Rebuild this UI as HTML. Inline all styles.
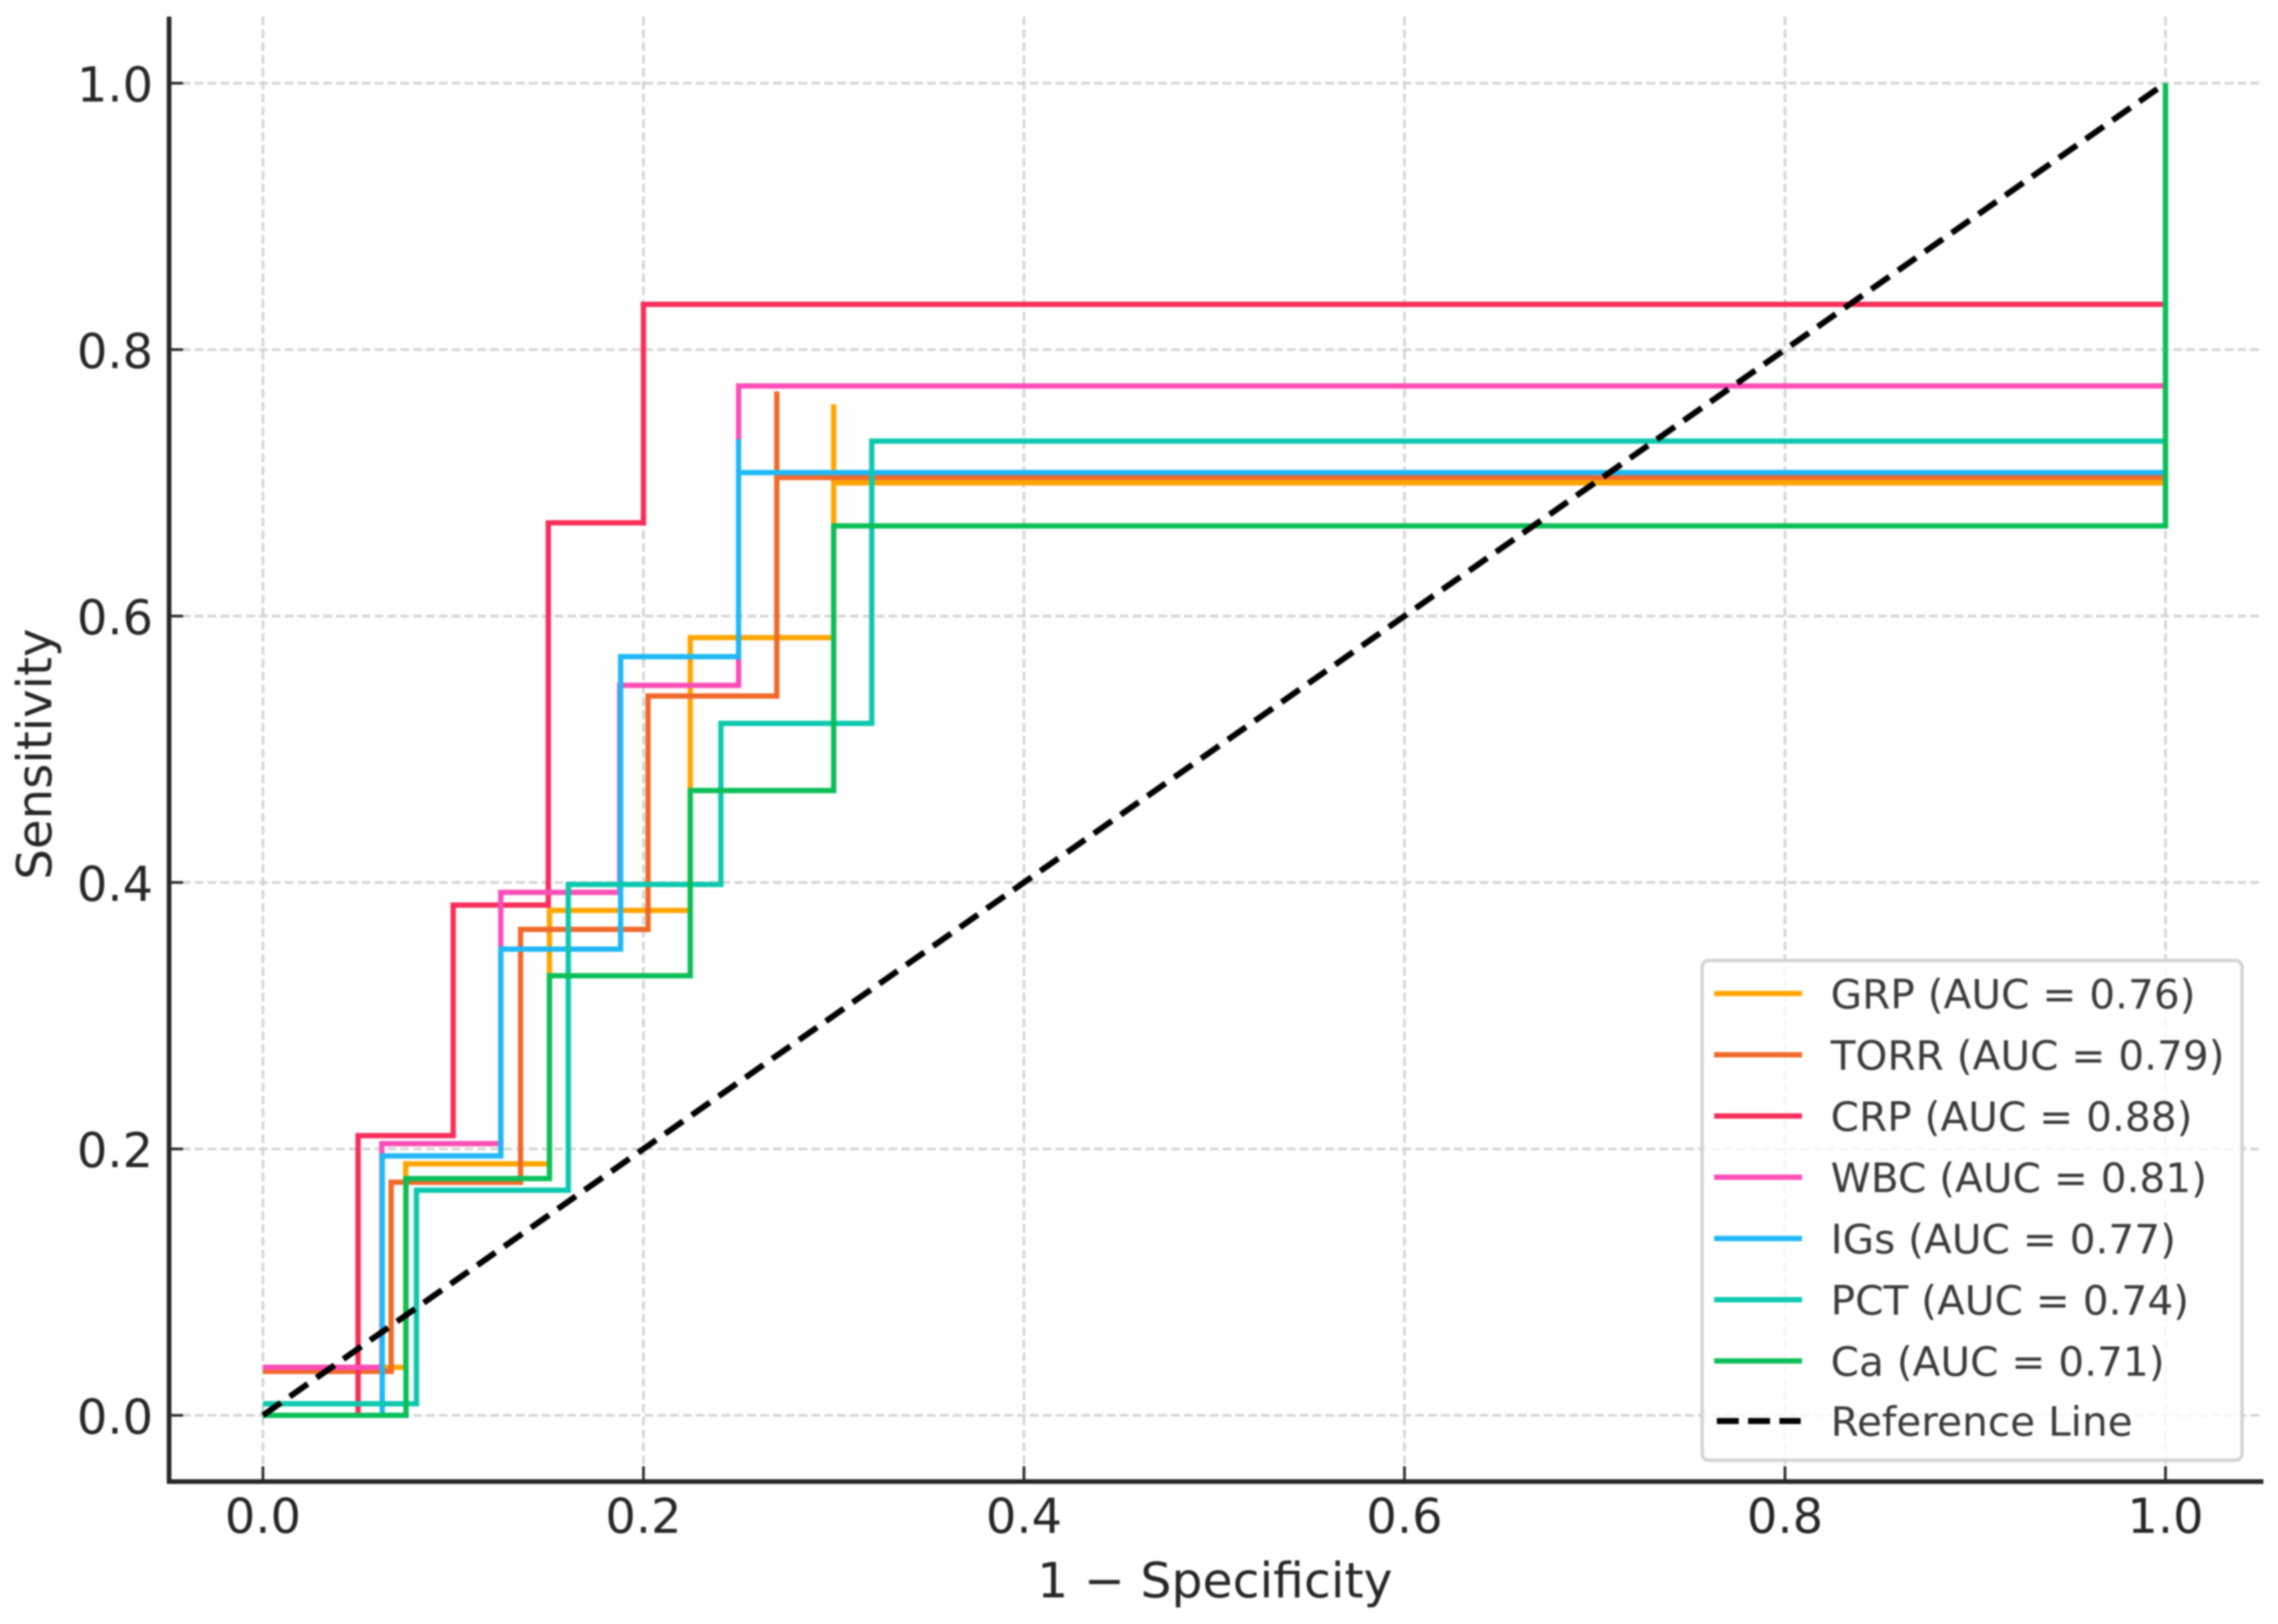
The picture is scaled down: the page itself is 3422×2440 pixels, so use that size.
<!DOCTYPE html>
<html lang="en">
<head>
<meta charset="utf-8">
<title>ROC curves</title>
<style>
  html, body { margin: 0; padding: 0; background: #fff; }
  #chart { display: block; filter: blur(1.2px); }
  text { font-family: "DejaVu Sans", "Liberation Sans", sans-serif; }
</style>
</head>
<body>
<svg id="chart" xmlns="http://www.w3.org/2000/svg" width="3422" height="2440" viewBox="0 0 3422 2440">
  <rect x="0" y="0" width="3422" height="2440" fill="#ffffff"></rect>
  <g id="grid"></g>
  <g id="curves"></g>
  <g id="axes"></g>
  <text x="1825" y="2400" text-anchor="middle" font-size="73.5" fill="#262626">1 − Specificity</text>
  <text x="77" y="1133" text-anchor="middle" font-size="72.5" fill="#262626" transform="rotate(-90 77 1133)">Sensitivity</text>
  <g id="legend"></g>
</svg>
<script>
// ---- Data ----
const categories = ['GRP', 'TORR', 'CRP', 'WBC', 'IGs', 'PCT', 'Ca'];
const aucValues = [0.76, 0.79, 0.88, 0.81, 0.77, 0.74, 0.71];
const xTickValues = [0, 0.2, 0.4, 0.6, 0.8, 1];
const yTickValues = [0, 0.2, 0.4, 0.6, 0.8, 1];
const referenceX = [0, 1];
const referenceY = [0, 1];
const referenceLabel = 'Reference Line';

const grpFpr = [0, 0.075, 0.075, 0.1506, 0.1506, 0.2246, 0.2246, 0.3, 0.3, 0.3, 1, 1];
const grpTpr = [0.036, 0.036, 0.1888, 0.1888, 0.379, 0.379, 0.5838, 0.5838, 0.759, 0.7, 0.7, 1];
const torrFpr = [0, 0.0674, 0.0674, 0.1354, 0.1354, 0.2024, 0.2024, 0.2701, 0.2701, 0.2701, 1, 1];
const torrTpr = [0.033, 0.033, 0.175, 0.175, 0.3648, 0.3648, 0.54, 0.54, 0.7686, 0.704, 0.704, 1];
const crpFpr = [0, 0.05, 0.05, 0.1, 0.1, 0.15, 0.15, 0.2, 0.2, 1, 1];
const crpTpr = [0, 0, 0.21, 0.21, 0.383, 0.383, 0.67, 0.67, 0.834, 0.834, 1];
const wbcFpr = [0, 0.0625, 0.0625, 0.125, 0.125, 0.1875, 0.1875, 0.25, 0.25, 1, 1];
const wbcTpr = [0.036, 0.036, 0.204, 0.204, 0.3926, 0.3926, 0.548, 0.548, 0.7727, 0.7727, 1];
const igsFpr = [0, 0.0627, 0.0627, 0.125, 0.125, 0.188, 0.188, 0.25, 0.25, 0.25, 1, 1];
const igsTpr = [0, 0, 0.1947, 0.1947, 0.35, 0.35, 0.5695, 0.5695, 0.7327, 0.7077, 0.7077, 1];
const pctFpr = [0, 0.0807, 0.0807, 0.1605, 0.1605, 0.2407, 0.2407, 0.32, 0.32, 1, 1];
const pctTpr = [0.0087, 0.0087, 0.169, 0.169, 0.3985, 0.3985, 0.5194, 0.5194, 0.7313, 0.7313, 1];
const caFpr = [0, 0.0752, 0.0752, 0.1506, 0.1506, 0.2246, 0.2246, 0.3, 0.3, 1, 1];
const caTpr = [0, 0, 0.1777, 0.1777, 0.33, 0.33, 0.469, 0.469, 0.6677, 0.6677, 1];

const fprSeries = [grpFpr, torrFpr, crpFpr, wbcFpr, igsFpr, pctFpr, caFpr];
const tprSeries = [grpTpr, torrTpr, crpTpr, wbcTpr, igsTpr, pctTpr, caTpr];

// ---- Styles ----
const seriesColors = ['#ffa500', '#f0692a', '#f82d5a', '#fb4db8', '#1fb8f5', '#0cc8ae', '#0abf57'];

// ---- Axis functions ----
const xScale = function (v) { return 395 + 2858 * v; };
const yScale = function (v) { return 2126.5 - 2001.5 * v; };

const SVG_NS = 'http://www.w3.org/2000/svg';
function make(tag, parent) {
  const el = document.createElementNS(SVG_NS, tag);
  parent.appendChild(el);
  return el;
}
function setAll(el, attrs) {
  Object.keys(attrs).forEach(function (k) { el.setAttribute(k, attrs[k]); });
}

const gridGroup = document.getElementById('grid');
const curveGroup = document.getElementById('curves');
const axesGroup = document.getElementById('axes');
const legendGroup = document.getElementById('legend');

const plotLeft = 254, plotRight = 3400, plotTop = 25, plotBottom = 2226;

// Grid
xTickValues.forEach(function (t) {
  const line = make('line', gridGroup);
  
  
  setAll(line, { x1: xScale(t), x2: xScale(t), y1: plotTop, y2: plotBottom, stroke: '#d4d4d4', 'stroke-width': 4, 'stroke-dasharray': '13 6.3' });
});
yTickValues.forEach(function (t) {
  const line = make('line', gridGroup);
  
  
  setAll(line, { x1: plotLeft, x2: plotRight, y1: yScale(t), y2: yScale(t), stroke: '#d4d4d4', 'stroke-width': 4, 'stroke-dasharray': '13 6.3' });
});

// Reference diagonal (drawn under the final vertical of the curves)
const refLine = make('line', curveGroup);



// ROC curves
categories.forEach(function (name, i) {
  const pts = fprSeries[i].map(function (x, j) {
    return xScale(x).toFixed(1) + ',' + yScale(tprSeries[i][j]).toFixed(1);
  }).join(' ');
  const line = make('polyline', curveGroup);
  
  
  setAll(line, { points: pts, fill: 'none', stroke: seriesColors[i], 'stroke-width': 8, 'stroke-linejoin': 'miter', 'stroke-linecap': 'butt' });
});

curveGroup.appendChild(refLine);
setAll(refLine, { x1: xScale(referenceX[0]), y1: yScale(referenceY[0]), x2: xScale(referenceX[1]), y2: yScale(referenceY[1]), stroke: '#000', 'stroke-width': 9, 'stroke-dasharray': '33 16.16' });

// Spines
const leftSpine = make('line', axesGroup);


setAll(leftSpine, { x1: plotLeft, x2: plotLeft, y1: plotTop, y2: plotBottom + 3, stroke: '#262626', 'stroke-width': 7 });
const bottomSpine = make('line', axesGroup);


setAll(bottomSpine, { x1: plotLeft - 3, x2: plotRight, y1: plotBottom, y2: plotBottom, stroke: '#262626', 'stroke-width': 7 });

// Ticks and labels
xTickValues.forEach(function (t) {
  const tick = make('line', axesGroup);
  
  
  setAll(tick, { x1: xScale(t), x2: xScale(t), y1: plotBottom, y2: plotBottom - 23, stroke: '#262626', 'stroke-width': 4 });
  const label = make('text', axesGroup);
  
  
  setAll(label, { x: xScale(t), y: 2303, 'text-anchor': 'middle', 'font-size': 72, fill: '#262626' });
  label.textContent = t.toFixed(1);
});
yTickValues.forEach(function (t) {
  const tick = make('line', axesGroup);
  
  
  setAll(tick, { x1: plotLeft, x2: plotLeft + 21, y1: yScale(t), y2: yScale(t), stroke: '#262626', 'stroke-width': 4 });
  const label = make('text', axesGroup);
  
  
  setAll(label, { x: 230, y: yScale(t) + 27.5, 'text-anchor': 'end', 'font-size': 72, fill: '#262626' });
  label.textContent = t.toFixed(1);
});

// Legend
const legendBox = make('rect', legendGroup);


setAll(legendBox, { x: 2557, y: 1443, width: 811, height: 751, rx: 10, ry: 10, fill: '#ffffff', 'fill-opacity': 0.8, stroke: '#d2d2d2', 'stroke-width': 5 });

const legendRowTop = 1492.8, legendRowStep = 92;
categories.forEach(function (name, i) {
  const rowY = legendRowTop + legendRowStep * i;
  const swatch = make('line', legendGroup);
  
  
  setAll(swatch, { x1: 2575, x2: 2707, y1: rowY, y2: rowY, stroke: seriesColors[i], 'stroke-width': 8 });
  const label = make('text', legendGroup);
  
  
  setAll(label, { x: 2750, y: rowY + 22, 'font-size': 61, fill: '#3a3a3a' });
  label.textContent = name + ' (AUC = ' + aucValues[i].toFixed(2) + ')';
});
const refRowY = 2135;
const refSwatch = make('line', legendGroup);


setAll(refSwatch, { x1: 2579, x2: 2705, y1: refRowY, y2: refRowY, stroke: '#000', 'stroke-width': 9, 'stroke-dasharray': '33 14' });
const refText = make('text', legendGroup);


setAll(refText, { x: 2750, y: refRowY + 22, 'font-size': 61, fill: '#3a3a3a' });
refText.textContent = referenceLabel;
</script>
</body>
</html>
